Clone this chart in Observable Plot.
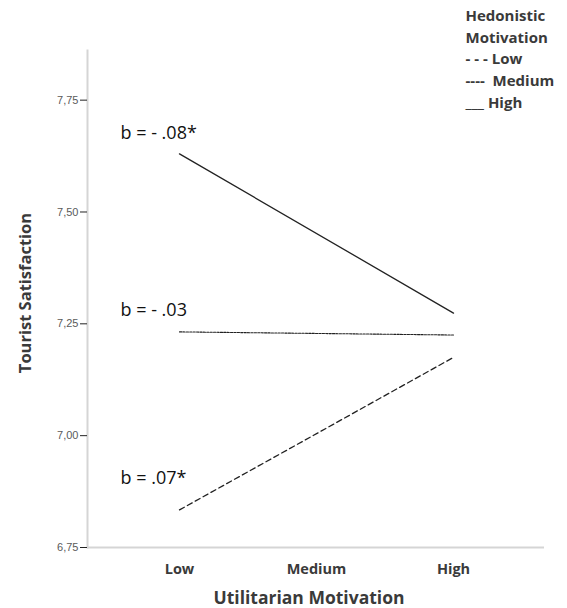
<!DOCTYPE html>
<html>
<head>
<meta charset="utf-8">
<script src="https://cdn.jsdelivr.net/npm/d3@7"></script>
<script src="https://cdn.jsdelivr.net/npm/@observablehq/plot@0.6"></script>
<style>
  html, body { margin: 0; padding: 0; background: #fff; }
  #chart svg { display: block; }
</style>
</head>
<body>
<div id="chart"></div>
<script>
// Utilitarian motivation levels (x axis)
const utilLevels = ["Low", "Medium", "High"];
// Endpoints of each simple slope (Low and High utilitarian motivation)
const slopeX = ["Low", "High"];
const hedLowValues = [6.834, 7.175];
const hedMediumValues = [7.232, 7.225];
const hedHighValues = [7.630, 7.274];
// Hedonistic motivation groups
const hedGroups = ["Low", "Medium", "High"];
// Slope annotations
const slopeLabels = ["b = .07*", "b = - .03", "b = - .08*"];
const slopeLabelY = [6.904, 7.2815, 7.675];
// Y ticks
const yTicks = [6.75, 7.00, 7.25, 7.50, 7.75];
// Texts
const xTitle = "Utilitarian Motivation";
const yTitle = "Tourist Satisfaction";
const legendText = "Hedonistic\nMotivation\n- - - Low\n----\u00a0\u00a0Medium\n___ High";

const seriesValues = [hedLowValues, hedMediumValues, hedHighValues];
const rows = [];
hedGroups.forEach((g, gi) => {
  slopeX.forEach((x, xi) => rows.push({group: g, x, y: seriesValues[gi][xi]}));
});
const labels = hedGroups.map((g, i) => ({group: g, x: "Low", y: slopeLabelY[i], text: slopeLabels[i]}));

const styles = {
  Low: {strokeDasharray: "5.5,3.5", strokeWidth: 1.3},
  Medium: {strokeDasharray: "2.2,1.2", strokeWidth: 1.1},
  High: {strokeDasharray: null, strokeWidth: 1.3}
};

const axisGray = "#d5d5d5";
const textDark = "#3a3a3a";

const chart = Plot.plot({
  width: 567,
  height: 608,
  marginLeft: 87,
  marginRight: 23,
  marginTop: 50,
  marginBottom: 61,
  style: {fontFamily: "'Open Sans', Lato, sans-serif", background: "#fff"},
  x: {type: "point", domain: utilLevels, padding: 0.662, axis: null},
  y: {domain: [6.75, 7.861], axis: null},
  marks: [
    Plot.frame({anchor: "left", stroke: axisGray, strokeWidth: 2}),
    Plot.ruleY([6.75], {stroke: axisGray, strokeWidth: 2}),
    Plot.axisY(yTicks, {
      tickSize: 7, tickPadding: 2, tickFormat: d => d3.format(".2f")(d).replace(".", ","),
      fontFamily: "'Liberation Sans', Arial, sans-serif", fontSize: 11, fill: "#5a5a5a", stroke: "#222", label: null
    }),
    Plot.axisX(utilLevels, {
      tickSize: 0, tickPadding: 16, fontSize: 14.5, fontWeight: "bold", fill: textDark, label: null
    }),
    ...hedGroups.map(g => Plot.line(rows.filter(r => r.group === g), {
      x: "x", y: "y", stroke: "#222", strokeWidth: styles[g].strokeWidth,
      strokeDasharray: styles[g].strokeDasharray
    })),
    Plot.text(labels, {x: "x", y: "y", text: "text", textAnchor: "start", dx: -59, fontSize: 18, fill: "#111"}),
    Plot.text([xTitle], {frameAnchor: "bottom", dx: -7, dy: 51, lineAnchor: "middle", textAnchor: "middle", fontSize: 17.5, fontWeight: "bold", fill: textDark}),
    Plot.text([yTitle], {frameAnchor: "left", dx: -62, dy: -6, rotate: -90, textAnchor: "middle", lineAnchor: "middle", fontSize: 16.5, fontWeight: "bold", fill: textDark}),
    Plot.text([legendText], {frameAnchor: "top-left", dx: 378, dy: -45, lineAnchor: "top", textAnchor: "start", lineHeight: 1.45, fontSize: 15, fontWeight: "bold", fill: textDark})
  ]
});
document.getElementById("chart").appendChild(chart);
</script>
</body>
</html>
